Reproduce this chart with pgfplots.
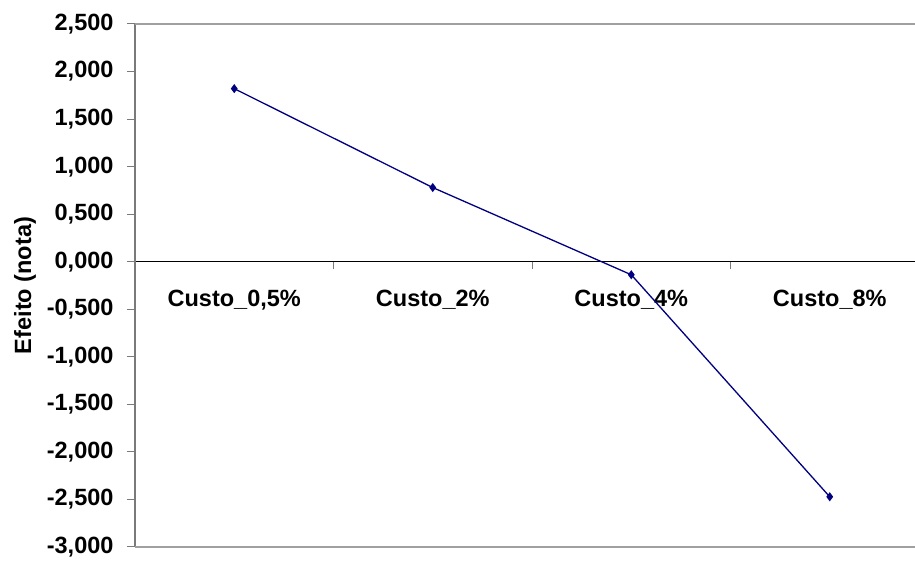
\documentclass[border=0pt]{standalone}
\usepackage{fontspec}
\setmainfont{Liberation Sans}
\usepackage{pgfplots}
\pgfplotsset{compat=1.18}
\definecolor{linenavy}{HTML}{000080}
\definecolor{spinegray}{HTML}{7A7A7A}
\definecolor{framegray}{HTML}{A0A0A0}
\begin{document}
\begin{tikzpicture}
\begin{axis}[
  at={(135pt,14pt)}, anchor=south west,
  scale only axis, width=794pt, height=523pt,
  xmin=-0.5, xmax=3.5, ymin=-3, ymax=2.5,
  axis y line=left, axis x line=middle,
  axis line style={-},
  y axis line style={draw=spinegray, line width=1.6pt},
  x axis line style={draw=black, line width=1pt},
  xtick={0,1,2,3},
  xticklabels={Custo\_0{,}5\%, Custo\_2\%, Custo\_4\%, Custo\_8\%},
  x tick style={draw=none},
  xticklabel style={yshift=-17pt},
  ytick={-3,-2.5,...,2.5},
  y tick style={draw=spinegray, line width=1pt},
  tick align=outside, major tick length=8pt,
  yticklabel style={xshift=-10pt},
  /pgf/number format/.cd, fixed, fixed zerofill, precision=3, use comma,
  assume math mode=true,
  /pgfplots/.cd,
  tick label style={font=\fontsize{23.5}{28}\selectfont\bfseries},
  ylabel={Efeito (nota)},
  every axis y label/.style={at={([xshift=-110pt]rel axis cs:0,0.5)},
    rotate=90, anchor=center, font=\fontsize{23.5}{28}\selectfont\bfseries},
  clip=false,
]
% plot area frame lines
\draw[framegray, line width=1.5pt] (rel axis cs:0,1) -- (rel axis cs:1,1);
\draw[framegray, line width=1.5pt] (rel axis cs:0,0) -- (rel axis cs:1,0);
% category separators on the zero line
\pgfplotsinvokeforeach{0.5,1.5,2.5}{
  \draw[spinegray, line width=1pt] (axis cs:#1,0) -- ([yshift=-7pt]axis cs:#1,0);
}
\addplot[color=linenavy, line width=1.3pt, mark=diamond*, mark size=3.5pt,
  mark options={fill=linenavy, draw=linenavy}]
  coordinates {(0,1.820) (1,0.780) (2,-0.137) (3,-2.472)};
\end{axis}
\pgfresetboundingbox
\path[use as bounding box] (0,0) rectangle (915pt,561pt);
\end{tikzpicture}
\end{document}
